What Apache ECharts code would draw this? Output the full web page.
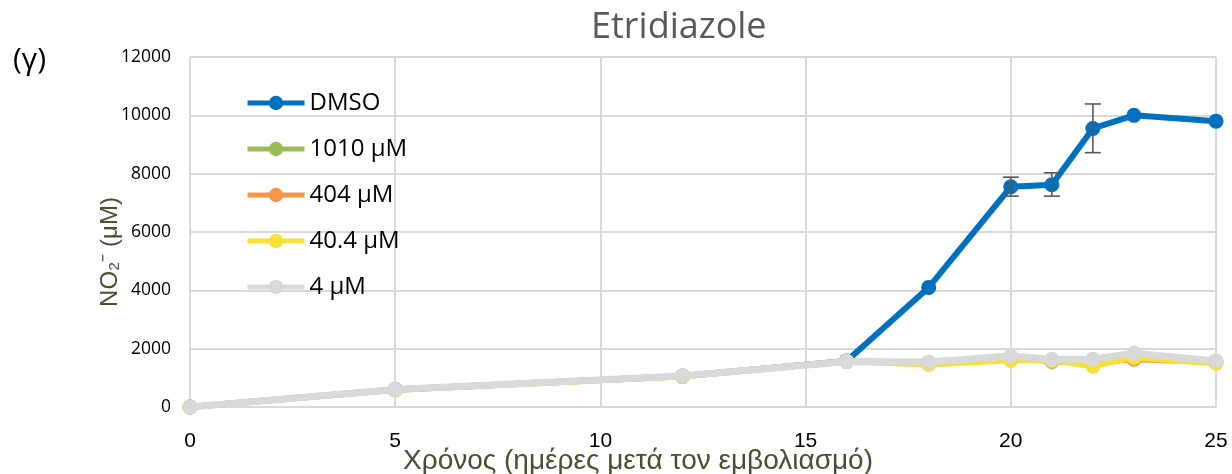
<!DOCTYPE html>
<html>
<head>
<meta charset="utf-8">
<script src="https://cdn.jsdelivr.net/npm/echarts@6/dist/echarts.min.js"></script>
<style>
html,body{margin:0;padding:0;background:#fff;}
#c{width:1232px;height:474px;}
</style>
</head>
<body>
<div id="c"></div>
<script>
const days = [0, 5, 12, 16, 18, 20, 21, 22, 23, 25];
const seriesNames = ['DMSO', '1010 μM', '404 μM', '40.4 μM', '4 μM'];
const dmso    = [0, 600, 1060, 1580, 4100, 7550, 7620, 9550, 10000, 9800];
const c1010   = [0, 590, 1050, 1560, 1520, 1700, 1600, 1550, 1700, 1560];
const c404    = [0, 590, 1050, 1560, 1500, 1720, 1560, 1520, 1640, 1540];
const c40_4   = [0, 590, 1050, 1560, 1460, 1600, 1600, 1400, 1700, 1500];
const c4      = [0, 600, 1060, 1560, 1540, 1750, 1640, 1640, 1840, 1580];
// error bars for DMSO: [day, low, high]
const errDays = [20, 21, 22];
const errLow  = [7230, 7230, 8720];
const errHigh = [7880, 8030, 10390];
const xTicks = [0, 5, 10, 15, 20, 25];
const yTicks = [0, 2000, 4000, 6000, 8000, 10000, 12000];
const titleText = 'Etridiazole';
const panelLabel = '(γ)';
const xName = 'Χρόνος (ημέρες μετά τον εμβολιασμό)';
const yName = 'NO₂⁻ (μM)';

const colors = ['#0070c0', '#9bbb59', '#f79646', '#f7e03a', '#d9d9d9'];
const values = [dmso, c1010, c404, c40_4, c4];

const lineSeries = seriesNames.map((n, i) => ({
  name: n,
  type: 'line',
  data: days.map((d, j) => [d, values[i][j]]),
  symbol: 'circle',
  symbolSize: 15,
  lineStyle: { width: i === 4 ? 7 : 6, color: colors[i] },
  itemStyle: { color: colors[i] },
  z: 2 + i,
  animation: false
}));

const errSeries = {
  type: 'custom',
  name: 'err',
  z: 10,
  data: errDays.map((d, i) => [d, errLow[i], errHigh[i]]),
  renderItem: function (params, api) {
    const lo = api.coord([api.value(0), api.value(1)]);
    const hi = api.coord([api.value(0), api.value(2)]);
    const w = 8;
    const st = { stroke: '#595959', lineWidth: 1.6 };
    return {
      type: 'group',
      children: [
        { type: 'line', shape: { x1: lo[0], y1: lo[1], x2: hi[0], y2: hi[1] }, style: st },
        { type: 'line', shape: { x1: lo[0] - w, y1: lo[1], x2: lo[0] + w, y2: lo[1] }, style: st },
        { type: 'line', shape: { x1: hi[0] - w, y1: hi[1], x2: hi[0] + w, y2: hi[1] }, style: st }
      ]
    };
  },
  animation: false
};

const chart = echarts.init(document.getElementById('c'));
chart.setOption({
  animation: false,
  backgroundColor: '#fff',
  title: [
    { text: titleText, left: 586, top: 5,
      textStyle: { fontFamily: 'Open Sans', fontSize: 36, fontWeight: 'normal', color: '#595959' } },
    { text: panelLabel, left: 8, top: 40,
      textStyle: { fontFamily: 'Open Sans', fontSize: 30, fontWeight: 'normal', color: '#000' } }
  ],
  graphic: [{
    type: 'text',
    x: 110, y: 252,
    rotation: Math.PI / 2,
    style: {
      text: yName,
      fontFamily: 'Liberation Sans', fontSize: 24, fill: '#4d4d33',
      align: 'center', verticalAlign: 'middle'
    }
  }],
  legend: {
    data: seriesNames,
    orient: 'vertical',
    left: 240,
    top: 86,
    itemWidth: 57,
    itemHeight: 18,
    itemGap: 22,
    lineStyle: { width: 5 },
    textStyle: { fontFamily: 'Open Sans', fontSize: 24, color: '#000', lineHeight: 24 }
  },
  grid: { left: 190, right: 16, top: 57, bottom: 67, containLabel: false, outerBoundsMode: 'none' },
  xAxis: {
    type: 'value', min: 0, max: 25, interval: 5,
    name: xName,
    nameLocation: 'middle', nameGap: 40, nameMoveOverlap: false,
    nameTextStyle: { fontFamily: 'Liberation Sans', fontSize: 28, color: '#4d4d33', verticalAlign: 'top',
      padding: [0, 130, 0, 0] },
    axisLine: { show: true, lineStyle: { color: '#d9d9d9', width: 2 } },
    axisTick: { show: false },
    splitLine: { show: true, lineStyle: { color: '#d9d9d9', width: 2 } },
    axisLabel: { fontFamily: 'Liberation Sans', fontSize: 21, color: '#000', margin: 24 }
  },
  yAxis: {
    type: 'value', min: 0, max: 12000, interval: 2000,
    axisLine: { show: true, lineStyle: { color: '#d9d9d9', width: 2 } },
    axisTick: { show: false },
    splitLine: { show: true, lineStyle: { color: '#d9d9d9', width: 2 } },
    axisLabel: { fontFamily: 'Open Sans', fontSize: 17.5, color: '#000', margin: 19,
      formatter: v => String(v) }
  },
  series: lineSeries.concat([errSeries])
});
</script>
</body>
</html>
